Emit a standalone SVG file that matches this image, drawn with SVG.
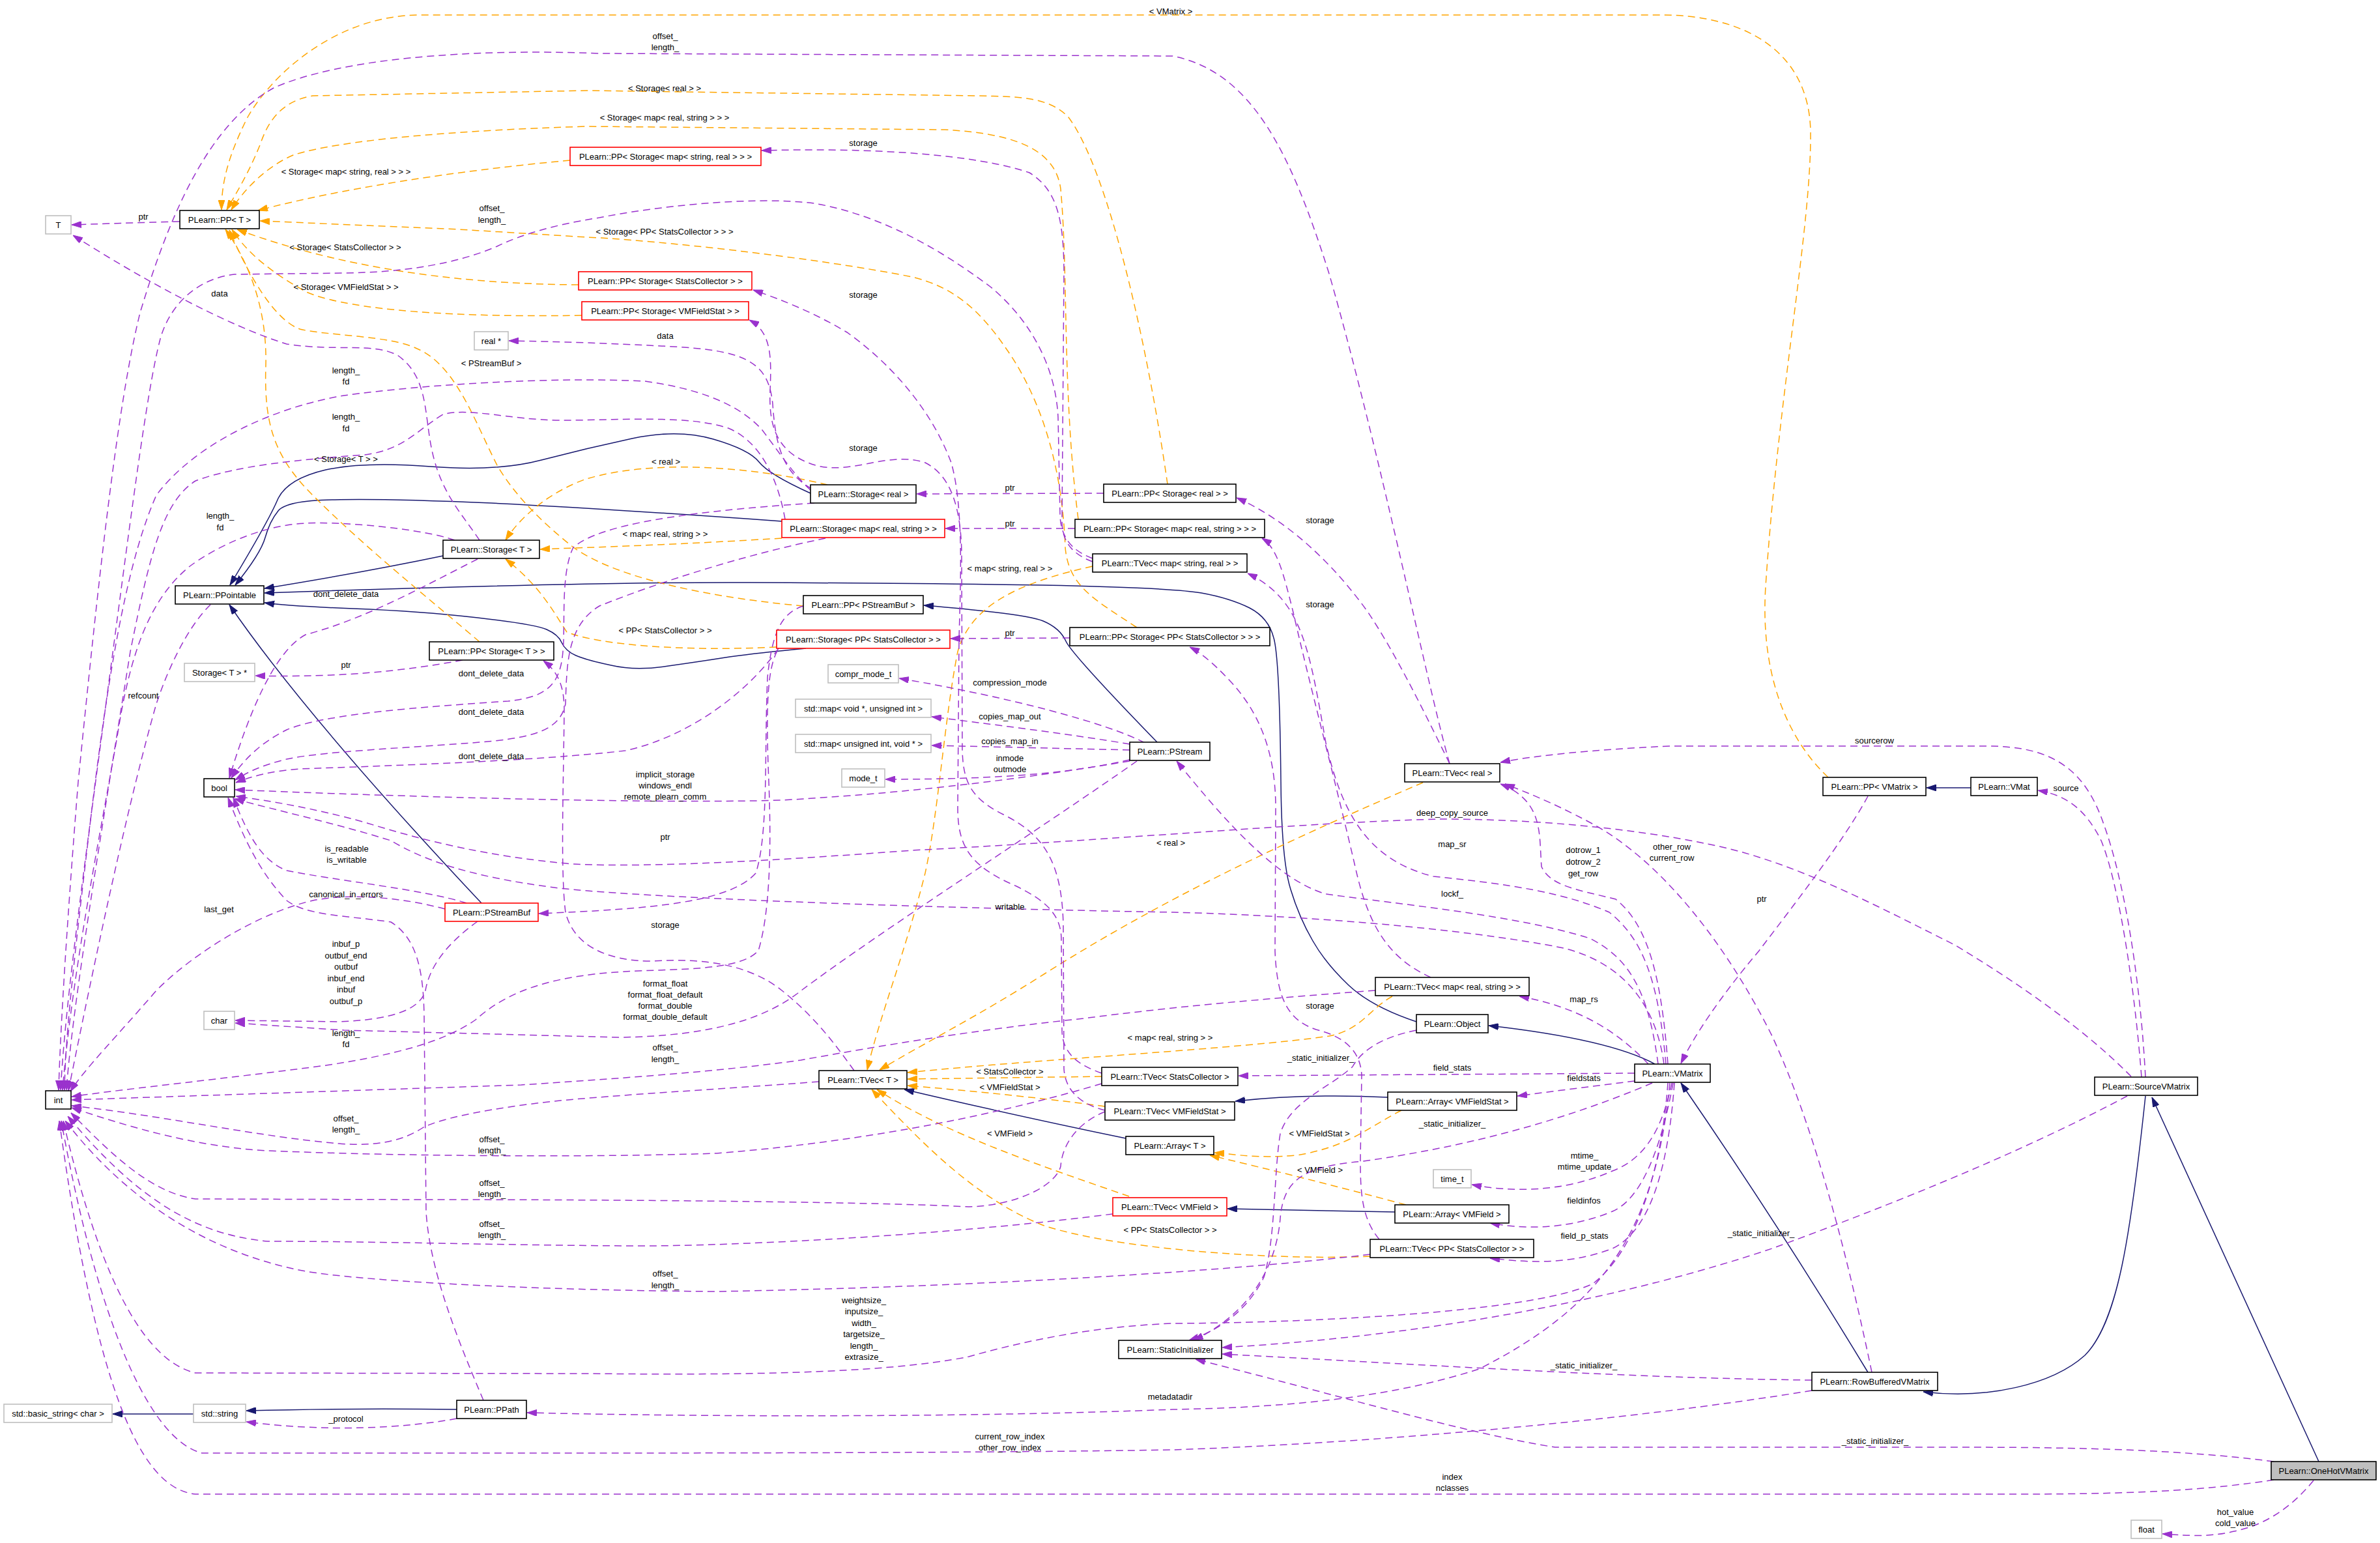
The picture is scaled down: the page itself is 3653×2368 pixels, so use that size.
<svg xmlns="http://www.w3.org/2000/svg" width="3653" height="2368" viewBox="0 0 3653 2368">
<defs>
<style>
.t{font-family:"Liberation Sans",Arial,Helvetica,sans-serif;font-size:13px;fill:#000;text-anchor:middle}
.nb{fill:#fff;stroke:#000;stroke-width:1.6}
.nr{fill:#fff;stroke:#ff0000;stroke-width:1.6}
.ng{fill:#fff;stroke:#bfbfbf;stroke-width:1.6}
.nf{fill:#bfbfbf;stroke:#000;stroke-width:1.6}
.p{fill:none;stroke:#9a32cd;stroke-width:1.5;stroke-dasharray:11,7;marker-end:url(#ap)}
.o{fill:none;stroke:#ffa500;stroke-width:1.5;stroke-dasharray:11,7;marker-end:url(#ao)}
.n{fill:none;stroke:#191970;stroke-width:1.5;marker-end:url(#an)}
</style>
<marker id="ap" viewBox="0 0 15 10" refX="15" refY="5" markerUnits="userSpaceOnUse" markerWidth="15" markerHeight="10" orient="auto"><path d="M0,0 L15,5 L0,10 z" fill="#9a32cd" stroke="#9a32cd"/></marker>
<marker id="ao" viewBox="0 0 15 10" refX="15" refY="5" markerUnits="userSpaceOnUse" markerWidth="15" markerHeight="10" orient="auto"><path d="M0,0 L15,5 L0,10 z" fill="#ffa500" stroke="#ffa500"/></marker>
<marker id="an" viewBox="0 0 15 10" refX="15" refY="5" markerUnits="userSpaceOnUse" markerWidth="15" markerHeight="10" orient="auto"><path d="M0,0 L15,5 L0,10 z" fill="#191970" stroke="#191970"/></marker>
</defs>
<rect width="3653" height="2368" fill="#fff"/>
<g id="edges">
<!-- inheritance -->
<path class="n" d="M680,853 Q560,878 406,903"/>
<path class="n" d="M1244,757 Q1180,728 1165,709 Q1150,690 1095,674 Q1040,658 970,673 Q900,688 831,706 Q763,724 661,716 Q560,708 500,721 Q440,735 426,767 Q412,800 353,898"/>
<path class="n" d="M1200,800 Q920,780 754,772 Q587,765 514,767 Q440,768 427,784 Q414,800 407,825 Q400,850 361,898"/>
<path class="n" d="M1237,995 Q1164,1002 1120,1008 Q1076,1015 1026,1022 Q976,1030 938,1021 Q900,1013 884,1006 Q868,999 862,986 Q857,974 839,966 Q821,958 733,948 Q645,938 542,934 Q440,930 406,925"/>
<path class="n" d="M2174,1568 Q2105,1545 2070,1512 Q2035,1479 2015,1444 Q1994,1408 1981,1365 Q1967,1321 1966,1200 Q1964,1010 1955,979 Q1947,948 1918,933 Q1888,918 1844,910 Q1800,902 1600,898 Q1400,895 1150,894 Q900,893 406,910"/>
<path class="n" d="M1776,1139 Q1645,1004 1636,984 Q1627,964 1601,953 Q1575,942 1418,929"/>
<path class="n" d="M739,1386 Q470,1100 352,928"/>
<path class="n" d="M2540,1633 Q2470,1595 2285,1574"/>
<path class="n" d="M2867,2106 Q2730,1880 2580,1662"/>
<path class="n" d="M3293,1682 C3270,1900 3250,2030 3200,2080 C3150,2125 3050,2148 2952,2136"/>
<path class="n" d="M3559,2243 L3303,1684"/>
<path class="n" d="M3025,1209 L2957,1209"/>
<path class="n" d="M2130,1684 Q2005,1678 1896,1690"/>
<path class="n" d="M1728,1747 Q1545,1709 1388,1672"/>
<path class="n" d="M2141,1860 L1884,1855"/>
<path class="n" d="M701,2163 Q528,2161 378,2165"/>
<path class="n" d="M297,2170 L173,2170"/>
<!-- templates -->
<path class="o" d="M2806,1193 C2760,1150 2700,1060 2710,900 C2730,600 2780,350 2779,204 C2778,80 2680,23 2550,23 L645,23 C520,23 420,110 380,180 C350,240 340,280 340,322"/>
<path class="o" d="M1792,743 C1760,520 1700,260 1640,180 C1610,148 1560,148 1500,147 L900,139 L480,147 C430,155 410,190 400,220 C380,270 360,300 348,322"/>
<path class="o" d="M1655,797 C1630,600 1640,420 1628,290 C1620,230 1560,205 1450,199 L900,194 C700,200 520,215 450,238 C410,255 375,290 355,322"/>
<path class="o" d="M875,246 C700,262 520,290 396,323"/>
<path class="o" d="M1745,963 C1680,920 1640,900 1635,840 C1630,700 1590,600 1545,536 C1500,470 1460,440 1400,425 C1250,395 1000,368 900,364 L704,352 L399,339"/>
<path class="o" d="M888,437 C700,436 520,410 364,352"/>
<path class="o" d="M893,484 C650,488 520,470 470,448 C420,420 380,390 356,352"/>
<path class="o" d="M736,985 C660,920 560,840 480,760 C420,700 405,650 408,560 C410,470 380,400 346,352"/>
<path class="o" d="M1233,930 C1100,918 950,890 880,840 C830,800 790,760 763,714 C730,650 700,560 640,535 C600,515 500,515 460,505 C420,490 380,420 352,353"/>
<path class="o" d="M1270,744 C1150,715 1000,705 900,735 C850,752 800,790 776,829"/>
<path class="o" d="M1200,826 C1000,838 900,840 829,843"/>
<path class="o" d="M1192,993 C1050,1000 920,990 870,970 C850,940 830,900 776,858"/>
<path class="o" d="M2184,1201 C2000,1280 1800,1370 1604,1494 C1500,1560 1420,1600 1350,1642"/>
<path class="o" d="M1677,869 C1560,895 1490,930 1470,1000 C1450,1100 1440,1250 1420,1340 C1390,1460 1350,1560 1331,1642"/>
<path class="o" d="M2137,1529 C2100,1550 2090,1580 2040,1590 C1900,1610 1600,1625 1393,1646"/>
<path class="o" d="M1691,1652 L1393,1656"/>
<path class="o" d="M1696,1698 C1600,1685 1500,1675 1393,1666"/>
<path class="o" d="M1733,1836 C1600,1790 1450,1740 1346,1672"/>
<path class="o" d="M2103,1928 C1950,1935 1700,1915 1600,1880 C1500,1840 1420,1760 1338,1672"/>
<path class="o" d="M2151,1704 C2100,1730 2070,1760 1990,1773 C1930,1778 1900,1772 1864,1769"/>
<path class="o" d="M2158,1849 C2050,1820 1950,1795 1857,1773"/>
<!-- members -->
<path class="p" d="M276,340 Q200,342 110,345"/>
<path class="p" d="M736,829 C710,790 680,760 665,700 C650,640 660,580 610,545 C570,525 520,540 440,528 C350,500 220,430 112,361"/>
<path class="p" d="M1246,750 C1200,725 1190,680 1186,620 C1180,560 1150,540 1050,533 C950,527 850,524 781,523"/>
<path class="p" d="M1677,862 C1650,852 1630,835 1630,800 L1633,420 C1633,330 1620,290 1580,265 C1500,238 1350,226 1169,231"/>
<path class="p" d="M1691,1647 C1660,1636 1630,1620 1630,1580 L1629,1440 C1628,1400 1600,1380 1560,1360 C1490,1330 1470,1300 1470,1240 L1472,980 C1474,900 1480,780 1460,710 C1430,630 1370,560 1300,510 C1250,480 1200,460 1156,445"/>
<path class="p" d="M1696,1704 C1660,1695 1635,1675 1633,1640 L1632,1420 C1630,1320 1600,1280 1540,1250 C1490,1225 1478,1200 1477,1150 L1476,850 C1475,780 1460,730 1420,710 C1360,690 1300,735 1240,710 C1190,690 1180,650 1182,600 C1184,550 1185,510 1150,491"/>
<path class="p" d="M2225,1172 C2180,1080 2140,1000 2100,940 C2050,870 1980,800 1898,764"/>
<path class="p" d="M2196,1500 C2130,1470 2100,1420 2080,1330 C2050,1200 2010,1050 1985,940 C1970,880 1960,840 1937,826"/>
<path class="p" d="M2117,1902 C2090,1870 2088,1830 2088,1780 L2090,1650 C2088,1610 2060,1590 2020,1580 C1975,1565 1960,1530 1957,1460 L1958,1240 C1958,1150 1930,1090 1888,1045 C1860,1015 1840,1000 1826,993"/>
<path class="p" d="M1311,1643 C1280,1600 1250,1560 1200,1520 C1150,1480 1080,1470 1000,1475 C930,1475 880,1450 868,1400 C860,1340 865,1200 866,1090 C866,1050 855,1030 834,1014"/>
<path class="p" d="M2225,1172 C2190,1050 2120,700 2040,420 C1980,230 1920,110 1800,86 L920,82 C720,74 520,90 420,135 C320,190 260,330 215,480 C180,620 150,900 120,1200 C100,1450 92,1600 90,1673"/>
<path class="p" d="M1677,857 C1645,845 1628,825 1627,790 L1624,640 C1620,560 1580,490 1520,440 C1440,380 1350,330 1250,312 C1150,300 1000,318 920,334 C850,345 800,360 763,378 C700,405 620,418 528,419 L360,421 C300,428 260,470 246,520 C225,600 200,800 160,1100 C120,1400 100,1550 93,1673"/>
<path class="p" d="M698,829 C650,812 530,800 469,803 C400,806 330,840 290,870 C230,920 200,1000 180,1130 C150,1300 110,1500 96,1673"/>
<path class="p" d="M1244,752 C1220,730 1200,700 1170,660 C1130,615 1060,595 990,585 C850,578 650,590 528,607 C420,625 300,680 240,760 C200,850 170,1000 140,1250 C110,1500 100,1600 99,1673"/>
<path class="p" d="M1205,797 C1195,740 1170,680 1120,658 C1060,636 950,645 860,645 C780,644 720,625 680,636 C640,660 620,690 560,698 C460,705 360,715 300,738 C250,770 230,850 200,1000 C160,1250 110,1550 102,1673"/>
<path class="p" d="M323,928 C290,960 260,1020 240,1080 C200,1220 150,1450 105,1674"/>
<path class="p" d="M683,1395 C620,1378 540,1370 480,1382 C400,1400 300,1460 240,1520 C180,1590 130,1640 108,1675"/>
<path class="p" d="M1193,999 C1176,1030 1176,1100 1180,1200 C1184,1300 1182,1400 1164,1459 C1140,1485 1076,1487 980,1490 C850,1495 780,1520 730,1565 C680,1600 600,1620 500,1635 C350,1655 200,1670 110,1683"/>
<path class="p" d="M2111,1520 C1950,1532 1800,1545 1663,1563 C1500,1580 1350,1605 1229,1627 C1100,1645 950,1655 800,1665 L110,1688"/>
<path class="p" d="M1257,1660 C1100,1672 950,1680 850,1690 C760,1700 680,1715 650,1730 C620,1750 580,1760 520,1755 C400,1745 250,1712 110,1697"/>
<path class="p" d="M1691,1663 C1550,1705 1350,1750 1100,1770 C850,1778 550,1772 411,1766 C300,1760 200,1730 110,1700"/>
<path class="p" d="M1696,1706 C1650,1725 1630,1760 1628,1790 C1620,1820 1560,1850 1487,1852 C1350,1845 1000,1841 645,1841 L300,1840 C230,1830 170,1770 109,1708"/>
<path class="p" d="M1708,1863 C1500,1890 1200,1910 1000,1912 C800,1912 600,1905 411,1905 C300,1895 210,1840 104,1713"/>
<path class="p" d="M2103,1925 C1900,1950 1500,1975 1100,1982 C800,1980 550,1965 469,1951 C330,1925 200,1850 100,1720"/>
<path class="p" d="M2560,1662 C2550,1800 2510,1920 2445,1970 C2350,2015 2000,2030 1800,2031 C1700,2035 1600,2050 1487,2082 C1350,2110 1100,2110 900,2108 L300,2107 C230,2090 160,1990 97,1720"/>
<path class="p" d="M2781,2134 C2500,2180 2100,2215 1800,2225 C1500,2230 1000,2230 900,2230 L310,2230 C230,2210 150,2030 94,1720"/>
<path class="p" d="M3490,2271 C3400,2285 3300,2293 3100,2293 L300,2293 C220,2285 150,2150 91,1720"/>
<path class="p" d="M716,1386 C650,1365 520,1352 440,1336 C400,1320 380,1280 358,1224"/>
<path class="p" d="M742,2149 C700,2050 660,1950 654,1860 L651,1560 C650,1490 640,1440 600,1415 C530,1405 470,1405 440,1382 C400,1340 375,1290 350,1224"/>
<path class="p" d="M733,858 C650,900 560,950 469,974 C420,1000 380,1100 352,1194"/>
<path class="p" d="M1250,772 C1050,785 920,805 880,840 C860,880 868,960 864,1000 C860,1050 840,1070 780,1076 C650,1085 500,1095 440,1120 C400,1140 375,1165 355,1194"/>
<path class="p" d="M1267,826 C1150,850 1020,890 920,930 C870,960 870,1020 868,1080 C860,1120 820,1130 760,1137 C650,1147 500,1152 440,1165 C400,1175 380,1185 361,1197"/>
<path class="p" d="M1195,995 C1150,1060 1060,1130 960,1152 C820,1168 600,1175 460,1180 C420,1183 390,1190 362,1201"/>
<path class="p" d="M1734,1168 C1600,1190 1430,1215 1200,1228 C1000,1234 600,1222 361,1212"/>
<path class="p" d="M3271,1652 C3200,1580 3100,1510 3000,1450 C2880,1390 2750,1320 2620,1295 C2500,1270 2350,1257 2211,1257 C2000,1262 1700,1290 1400,1305 C1200,1320 1000,1332 880,1326 C750,1315 650,1290 560,1262 C480,1240 420,1230 362,1222"/>
<path class="p" d="M2554,1633 C2540,1530 2480,1475 2400,1455 C2250,1425 2000,1405 1800,1400 C1500,1395 1000,1380 850,1362 C720,1345 650,1320 600,1290 C520,1265 430,1245 360,1226"/>
<path class="p" d="M733,1414 C690,1445 660,1480 653,1520 C645,1550 600,1565 520,1568 L361,1566"/>
<path class="p" d="M1745,1168 C1600,1270 1350,1430 1230,1520 C1180,1560 1100,1590 950,1592 L528,1581 L361,1570"/>
<path class="p" d="M710,1013 C620,1030 520,1040 392,1037"/>
<path class="p" d="M1694,757 L1407,758"/>
<path class="p" d="M1650,811 L1451,811"/>
<path class="p" d="M1642,979 L1459,980"/>
<path class="p" d="M1233,930 C1200,940 1185,970 1178,1040 C1173,1150 1180,1280 1160,1340 C1120,1385 1000,1395 827,1402"/>
<path class="p" d="M2867,1222 C2830,1290 2760,1380 2700,1459 C2640,1530 2600,1590 2580,1632"/>
<path class="p" d="M2545,1633 C2530,1520 2500,1470 2440,1440 C2330,1405 2150,1388 2035,1372 C1960,1350 1880,1260 1806,1168"/>
<path class="p" d="M2530,1633 C2480,1580 2420,1545 2332,1529"/>
<path class="p" d="M2557,1633 C2545,1500 2520,1440 2470,1400 C2400,1370 2320,1357 2200,1345 C2100,1320 2060,1250 2035,1140 C2010,1000 2000,920 1915,880"/>
<path class="p" d="M2560,1633 C2550,1500 2530,1420 2480,1380 C2420,1365 2380,1360 2366,1330 C2362,1280 2370,1230 2303,1203"/>
<path class="p" d="M2873,2106 C2830,1900 2780,1720 2720,1590 C2650,1450 2550,1320 2440,1262 C2380,1230 2340,1215 2310,1203"/>
<path class="p" d="M3293,1653 C3285,1500 3260,1350 3229,1265 C3200,1180 3150,1145 3050,1145 L2563,1145 C2450,1150 2350,1160 2303,1170"/>
<path class="p" d="M3287,1653 C3275,1500 3250,1350 3225,1290 C3200,1240 3170,1220 3128,1213"/>
<path class="p" d="M2563,1662 C2540,1900 2450,2010 2270,2101 C2150,2140 2000,2160 1800,2163 C1500,2175 1100,2175 809,2168"/>
<path class="p" d="M2174,1581 C2120,1592 2090,1612 2076,1637 C2040,1670 1980,1690 1965,1740 C1955,1800 1958,1900 1940,1960 C1910,2020 1860,2045 1825,2057"/>
<path class="p" d="M2536,1662 C2400,1720 2250,1760 2093,1782 C2000,1790 1970,1810 1965,1870 C1960,1930 1930,2010 1832,2057"/>
<path class="p" d="M3265,1682 C3100,1770 2900,1850 2720,1916 C2500,1990 2200,2050 1876,2068"/>
<path class="p" d="M2781,2118 C2500,2115 2200,2095 1876,2078"/>
<path class="p" d="M3490,2243 C3350,2225 3200,2221 3000,2221 L2387,2221 C2250,2200 2050,2140 1835,2086"/>
<path class="p" d="M2509,1647 L1901,1651"/>
<path class="p" d="M2509,1659 Q2420,1670 2329,1682"/>
<path class="p" d="M2566,1662 C2550,1740 2520,1780 2475,1797 C2400,1830 2320,1830 2259,1818"/>
<path class="p" d="M2568,1662 C2550,1760 2520,1840 2475,1859 C2400,1890 2330,1885 2287,1877"/>
<path class="p" d="M2570,1662 C2560,1800 2530,1890 2475,1916 C2400,1945 2330,1935 2287,1931"/>
<path class="p" d="M1757,1140 C1700,1110 1550,1070 1380,1041"/>
<path class="p" d="M1734,1142 C1650,1128 1550,1115 1430,1100"/>
<path class="p" d="M1734,1151 L1430,1144"/>
<path class="p" d="M1734,1166 C1650,1185 1550,1196 1359,1196"/>
<path class="p" d="M3551,2272 C3520,2310 3480,2340 3429,2350 C3390,2360 3350,2356 3319,2354"/>
<path class="p" d="M701,2177 C620,2192 500,2198 378,2182"/>
</g>
<g id="edge-labels" class="t">
<text x="1797" y="22">&lt; VMatrix &gt;</text>
<text x="1021" y="60">offset_<tspan x="1021" dy="17">length_</tspan></text>
<text x="1020" y="140">&lt; Storage&lt; real &gt; &gt;</text>
<text x="1020" y="185">&lt; Storage&lt; map&lt; real, string &gt; &gt; &gt;</text>
<text x="1325" y="224">storage</text>
<text x="531" y="268">&lt; Storage&lt; map&lt; string, real &gt; &gt; &gt;</text>
<text x="220" y="337">ptr</text>
<text x="755" y="324">offset_<tspan x="755" dy="18">length_</tspan></text>
<text x="1020" y="360">&lt; Storage&lt; PP&lt; StatsCollector &gt; &gt; &gt;</text>
<text x="530" y="384">&lt; Storage&lt; StatsCollector &gt; &gt;</text>
<text x="531" y="445">&lt; Storage&lt; VMFieldStat &gt; &gt;</text>
<text x="337" y="455">data</text>
<text x="1325" y="457">storage</text>
<text x="1021" y="520">data</text>
<text x="754" y="562">&lt; PStreamBuf &gt;</text>
<text x="531" y="573">length_<tspan x="531" dy="17">fd</tspan></text>
<text x="531" y="644">length_<tspan x="531" dy="18">fd</tspan></text>
<text x="1325" y="692">storage</text>
<text x="531" y="709">&lt; Storage&lt; T &gt; &gt;</text>
<text x="1022" y="713">&lt; real &gt;</text>
<text x="1550" y="753">ptr</text>
<text x="338" y="796">length_<tspan x="338" dy="18">fd</tspan></text>
<text x="2026" y="803">storage</text>
<text x="1550" y="808">ptr</text>
<text x="1021" y="824">&lt; map&lt; real, string &gt; &gt;</text>
<text x="1550" y="877">&lt; map&lt; string, real &gt; &gt;</text>
<text x="531" y="916">dont_delete_data</text>
<text x="2026" y="932">storage</text>
<text x="1021" y="972">&lt; PP&lt; StatsCollector &gt; &gt;</text>
<text x="1550" y="976">ptr</text>
<text x="531" y="1025">ptr</text>
<text x="754" y="1038">dont_delete_data</text>
<text x="1550" y="1052">compression_mode</text>
<text x="220" y="1072">refcount</text>
<text x="754" y="1097">dont_delete_data</text>
<text x="1550" y="1104">copies_map_out</text>
<text x="2877" y="1141">sourcerow</text>
<text x="1550" y="1142">copies_map_in</text>
<text x="754" y="1165">dont_delete_data</text>
<text x="1550" y="1168">inmode<tspan x="1550" dy="17">outmode</tspan></text>
<text x="1021" y="1193">implicit_storage<tspan x="1021" dy="17">windows_endl</tspan><tspan x="1021" dy="17">remote_plearn_comm</tspan></text>
<text x="3171" y="1214">source</text>
<text x="2229" y="1252">deep_copy_source</text>
<text x="1021" y="1289">ptr</text>
<text x="1797" y="1298">&lt; real &gt;</text>
<text x="2229" y="1300">map_sr</text>
<text x="2430" y="1309">dotrow_1<tspan x="2430" dy="18">dotrow_2</tspan><tspan x="2430" dy="18">get_row</tspan></text>
<text x="2566" y="1304">other_row<tspan x="2566" dy="17">current_row</tspan></text>
<text x="532" y="1307">is_readable<tspan x="532" dy="17">is_writable</tspan></text>
<text x="2229" y="1376">lockf_</text>
<text x="531" y="1377">canonical_in_errors</text>
<text x="2704" y="1384">ptr</text>
<text x="1550" y="1396">writable</text>
<text x="336" y="1400">last_get</text>
<text x="1021" y="1424">storage</text>
<text x="531" y="1453">inbuf_p<tspan x="531" dy="17.5">outbuf_end</tspan><tspan x="531" dy="17.5">outbuf</tspan><tspan x="531" dy="17.5">inbuf_end</tspan><tspan x="531" dy="17.5">inbuf</tspan><tspan x="531" dy="17.5">outbuf_p</tspan></text>
<text x="1021" y="1514">format_float<tspan x="1021" dy="17">format_float_default</tspan><tspan x="1021" dy="17">format_double</tspan><tspan x="1021" dy="17">format_double_default</tspan></text>
<text x="2431" y="1538">map_rs</text>
<text x="2026" y="1548">storage</text>
<text x="531" y="1590">length_<tspan x="531" dy="17">fd</tspan></text>
<text x="1796" y="1597">&lt; map&lt; real, string &gt; &gt;</text>
<text x="1021" y="1612">offset_<tspan x="1021" dy="18">length_</tspan></text>
<text x="2027" y="1628">_static_initializer_</text>
<text x="2229" y="1643">field_stats</text>
<text x="1550" y="1649">&lt; StatsCollector &gt;</text>
<text x="2431" y="1659">fieldstats</text>
<text x="1550" y="1673">&lt; VMFieldStat &gt;</text>
<text x="531" y="1721">offset_<tspan x="531" dy="17">length_</tspan></text>
<text x="2229" y="1729">_static_initializer_</text>
<text x="1550" y="1744">&lt; VMField &gt;</text>
<text x="2025" y="1744">&lt; VMFieldStat &gt;</text>
<text x="755" y="1753">offset_<tspan x="755" dy="17">length_</tspan></text>
<text x="2432" y="1778">mtime_<tspan x="2432" dy="17">mtime_update</tspan></text>
<text x="2026" y="1800">&lt; VMField &gt;</text>
<text x="755" y="1820">offset_<tspan x="755" dy="17">length_</tspan></text>
<text x="2431" y="1847">fieldinfos</text>
<text x="755" y="1883">offset_<tspan x="755" dy="17">length_</tspan></text>
<text x="1796" y="1892">&lt; PP&lt; StatsCollector &gt; &gt;</text>
<text x="2703" y="1897">_static_initializer_</text>
<text x="2432" y="1901">field_p_stats</text>
<text x="1021" y="1959">offset_<tspan x="1021" dy="18">length_</tspan></text>
<text x="1326" y="2000">weightsize_<tspan x="1326" dy="17.4">inputsize_</tspan><tspan x="1326" dy="17.4">width_</tspan><tspan x="1326" dy="17.4">targetsize_</tspan><tspan x="1326" dy="17.4">length_</tspan><tspan x="1326" dy="17.4">extrasize_</tspan></text>
<text x="2431" y="2100">_static_initializer_</text>
<text x="1796" y="2148">metadatadir</text>
<text x="531" y="2182">_protocol</text>
<text x="1550" y="2209">current_row_index<tspan x="1550" dy="17">other_row_index</tspan></text>
<text x="2878" y="2216">_static_initializer_</text>
<text x="2229" y="2271">index<tspan x="2229" dy="17">nclasses</tspan></text>
<text x="3431" y="2325">hot_value<tspan x="3431" dy="17">cold_value</tspan></text>
</g>
<g id="n_T"><rect class="ng" x="70" y="331" width="39" height="28"/><text class="t" x="89.5" y="350">T</text></g>
<g id="n_PP_T"><rect class="nb" x="276" y="323" width="122" height="28"/><text class="t" x="337" y="342">PLearn::PP&lt; T &gt;</text></g>
<g id="n_PP_Storage_map_string_real"><rect class="nr" x="875" y="226" width="293" height="28"/><text class="t" x="1021.5" y="245">PLearn::PP&lt; Storage&lt; map&lt; string, real &gt; &gt; &gt;</text></g>
<g id="n_PP_Storage_StatsCollector"><rect class="nr" x="888" y="417" width="266" height="28"/><text class="t" x="1021" y="436">PLearn::PP&lt; Storage&lt; StatsCollector &gt; &gt;</text></g>
<g id="n_PP_Storage_VMFieldStat"><rect class="nr" x="893" y="463" width="256" height="28"/><text class="t" x="1021" y="482">PLearn::PP&lt; Storage&lt; VMFieldStat &gt; &gt;</text></g>
<g id="n_real_ptr"><rect class="ng" x="728" y="509" width="52" height="28"/><text class="t" x="754" y="528">real *</text></g>
<g id="n_Storage_real"><rect class="nb" x="1244" y="744" width="162" height="28"/><text class="t" x="1325" y="763">PLearn::Storage&lt; real &gt;</text></g>
<g id="n_PP_Storage_real"><rect class="nb" x="1694" y="743" width="203" height="28"/><text class="t" x="1795.5" y="762">PLearn::PP&lt; Storage&lt; real &gt; &gt;</text></g>
<g id="n_PP_Storage_map_real_string"><rect class="nb" x="1650" y="797" width="291" height="28"/><text class="t" x="1795.5" y="816">PLearn::PP&lt; Storage&lt; map&lt; real, string &gt; &gt; &gt;</text></g>
<g id="n_Storage_map_real_string"><rect class="nr" x="1200" y="797" width="250" height="28"/><text class="t" x="1325" y="816">PLearn::Storage&lt; map&lt; real, string &gt; &gt;</text></g>
<g id="n_TVec_map_string_real"><rect class="nb" x="1677" y="850" width="237" height="28"/><text class="t" x="1795.5" y="869">PLearn::TVec&lt; map&lt; string, real &gt; &gt;</text></g>
<g id="n_PP_PStreamBuf"><rect class="nb" x="1233" y="914" width="184" height="28"/><text class="t" x="1325" y="933">PLearn::PP&lt; PStreamBuf &gt;</text></g>
<g id="n_PP_Storage_PP_StatsCollector"><rect class="nb" x="1642" y="963" width="307" height="28"/><text class="t" x="1795.5" y="982">PLearn::PP&lt; Storage&lt; PP&lt; StatsCollector &gt; &gt; &gt;</text></g>
<g id="n_Storage_PP_StatsCollector"><rect class="nr" x="1192" y="967" width="266" height="28"/><text class="t" x="1325" y="986">PLearn::Storage&lt; PP&lt; StatsCollector &gt; &gt;</text></g>
<g id="n_compr_mode_t"><rect class="ng" x="1271" y="1020" width="108" height="28"/><text class="t" x="1325" y="1039">compr_mode_t</text></g>
<g id="n_map_voidp_uint"><rect class="ng" x="1221" y="1073" width="208" height="28"/><text class="t" x="1325" y="1092">std::map&lt; void *, unsigned int &gt;</text></g>
<g id="n_map_uint_voidp"><rect class="ng" x="1221" y="1127" width="208" height="28"/><text class="t" x="1325" y="1146">std::map&lt; unsigned int, void * &gt;</text></g>
<g id="n_mode_t"><rect class="ng" x="1292" y="1180" width="66" height="28"/><text class="t" x="1325" y="1199">mode_t</text></g>
<g id="n_PStream"><rect class="nb" x="1734" y="1139" width="123" height="28"/><text class="t" x="1795.5" y="1158">PLearn::PStream</text></g>
<g id="n_Storage_T"><rect class="nb" x="680" y="829" width="148" height="28"/><text class="t" x="754" y="848">PLearn::Storage&lt; T &gt;</text></g>
<g id="n_PPointable"><rect class="nb" x="269" y="899" width="136" height="28"/><text class="t" x="337" y="918">PLearn::PPointable</text></g>
<g id="n_PP_Storage_T"><rect class="nb" x="659" y="985" width="191" height="28"/><text class="t" x="754.5" y="1004">PLearn::PP&lt; Storage&lt; T &gt; &gt;</text></g>
<g id="n_Storage_T_ptr"><rect class="ng" x="283" y="1018" width="108" height="28"/><text class="t" x="337" y="1037">Storage&lt; T &gt; *</text></g>
<g id="n_bool"><rect class="nb" x="313" y="1195" width="47" height="28"/><text class="t" x="336.5" y="1214">bool</text></g>
<g id="n_PStreamBuf"><rect class="nr" x="683" y="1386" width="143" height="28"/><text class="t" x="754.5" y="1405">PLearn::PStreamBuf</text></g>
<g id="n_char"><rect class="ng" x="313" y="1552" width="47" height="28"/><text class="t" x="336.5" y="1571">char</text></g>
<g id="n_TVec_real"><rect class="nb" x="2156" y="1172" width="146" height="28"/><text class="t" x="2229" y="1191">PLearn::TVec&lt; real &gt;</text></g>
<g id="n_TVec_map_real_string"><rect class="nb" x="2111" y="1500" width="236" height="28"/><text class="t" x="2229" y="1519">PLearn::TVec&lt; map&lt; real, string &gt; &gt;</text></g>
<g id="n_Object"><rect class="nb" x="2174" y="1557" width="110" height="28"/><text class="t" x="2229" y="1576">PLearn::Object</text></g>
<g id="n_PP_VMatrix"><rect class="nb" x="2798" y="1193" width="158" height="28"/><text class="t" x="2877" y="1212">PLearn::PP&lt; VMatrix &gt;</text></g>
<g id="n_VMat"><rect class="nb" x="3025" y="1193" width="102" height="28"/><text class="t" x="3076" y="1212">PLearn::VMat</text></g>
<g id="n_int"><rect class="nb" x="70" y="1674" width="39" height="28"/><text class="t" x="89.5" y="1693">int</text></g>
<g id="n_basic_string"><rect class="ng" x="6" y="2155" width="166" height="28"/><text class="t" x="89" y="2174">std::basic_string&lt; char &gt;</text></g>
<g id="n_std_string"><rect class="ng" x="297" y="2155" width="80" height="28"/><text class="t" x="337" y="2174">std::string</text></g>
<g id="n_PPath"><rect class="nb" x="701" y="2149" width="107" height="28"/><text class="t" x="754.5" y="2168">PLearn::PPath</text></g>
<g id="n_TVec_T"><rect class="nb" x="1257" y="1643" width="135" height="28"/><text class="t" x="1324.5" y="1662">PLearn::TVec&lt; T &gt;</text></g>
<g id="n_TVec_StatsCollector"><rect class="nb" x="1691" y="1638" width="209" height="28"/><text class="t" x="1795.5" y="1657">PLearn::TVec&lt; StatsCollector &gt;</text></g>
<g id="n_TVec_VMFieldStat"><rect class="nb" x="1696" y="1691" width="199" height="28"/><text class="t" x="1795.5" y="1710">PLearn::TVec&lt; VMFieldStat &gt;</text></g>
<g id="n_Array_T"><rect class="nb" x="1728" y="1744" width="135" height="28"/><text class="t" x="1795.5" y="1763">PLearn::Array&lt; T &gt;</text></g>
<g id="n_TVec_VMField"><rect class="nr" x="1708" y="1838" width="175" height="28"/><text class="t" x="1795.5" y="1857">PLearn::TVec&lt; VMField &gt;</text></g>
<g id="n_StaticInitializer"><rect class="nb" x="1717" y="2057" width="158" height="28"/><text class="t" x="1796" y="2076">PLearn::StaticInitializer</text></g>
<g id="n_VMatrix"><rect class="nb" x="2509" y="1633" width="116" height="28"/><text class="t" x="2567" y="1652">PLearn::VMatrix</text></g>
<g id="n_Array_VMFieldStat"><rect class="nb" x="2130" y="1676" width="198" height="28"/><text class="t" x="2229" y="1695">PLearn::Array&lt; VMFieldStat &gt;</text></g>
<g id="n_time_t"><rect class="ng" x="2200" y="1795" width="58" height="28"/><text class="t" x="2229" y="1814">time_t</text></g>
<g id="n_Array_VMField"><rect class="nb" x="2141" y="1849" width="175" height="28"/><text class="t" x="2228.5" y="1868">PLearn::Array&lt; VMField &gt;</text></g>
<g id="n_TVec_PP_StatsCollector"><rect class="nb" x="2103" y="1902" width="251" height="28"/><text class="t" x="2228.5" y="1921">PLearn::TVec&lt; PP&lt; StatsCollector &gt; &gt;</text></g>
<g id="n_SourceVMatrix"><rect class="nb" x="3215" y="1653" width="158" height="28"/><text class="t" x="3294" y="1672">PLearn::SourceVMatrix</text></g>
<g id="n_RowBufferedVMatrix"><rect class="nb" x="2781" y="2106" width="193" height="28"/><text class="t" x="2877.5" y="2125">PLearn::RowBufferedVMatrix</text></g>
<g id="n_OneHotVMatrix"><rect class="nf" x="3486" y="2243" width="161" height="28"/><text class="t" x="3566.5" y="2262">PLearn::OneHotVMatrix</text></g>
<g id="n_float"><rect class="ng" x="3271" y="2333" width="47" height="28"/><text class="t" x="3294.5" y="2352">float</text></g>
</svg>
